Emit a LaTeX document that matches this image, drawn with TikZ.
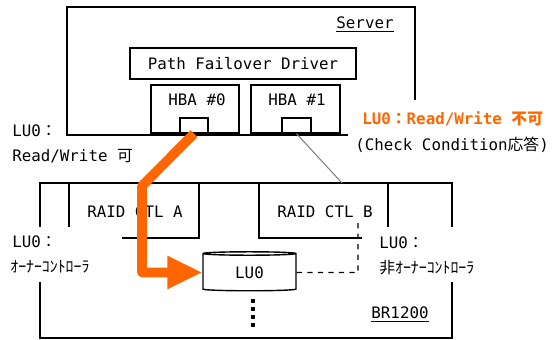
\documentclass[tikz,border=0pt]{standalone}
\usepackage{fontspec}
\setmainfont{DejaVu Sans Mono}
\newfontfamily\jp{Noto Sans CJK JP}
\usetikzlibrary{arrows.meta,shapes.geometric}
\definecolor{luorange}{RGB}{255,102,0}

\begin{document}
\begin{tikzpicture}[x=0.02cm, y=-0.02cm,
    box/.style={draw, line width=0.8pt, inner sep=0pt},
    txt/.style={inner sep=0pt, font=\fontsize{9}{10}\selectfont},
    frame/.style={line width=1.5pt},
    wall/.style={line width=0.8pt}]
    \useasboundingbox (0,0) rectangle (558,340);

    % Server
    \draw[frame] (348,135) -- (67,135) -- (67,7) -- (415,7) -- (415,100);
    \node[txt] (srv) at (365,25) {\underline{Server}};
    \node[box, txt, minimum width=4.52cm, minimum height=0.62cm] (drv) at (243,63.5) {Path Failover Driver};
    \node[box, minimum width=1.76cm, minimum height=0.96cm] (hba0) at (195,109) {};
    \node[box, minimum width=1.78cm, minimum height=0.96cm] (hba1) at (295.5,109) {};
    \node[txt] (hba0t) at (197,100) {HBA \#0};
    \node[txt] (hba1t) at (297,100) {HBA \#1};
    \node[box, minimum width=0.56cm, minimum height=0.3cm] (port0) at (194,125.5) {};
    \node[box, minimum width=0.58cm, minimum height=0.3cm] (port1) at (296.5,125.5) {};

    % BR1200
    \draw[frame] (40,227) -- (40,183) -- (452,183) -- (452,227);
    \draw[frame] (40,282) -- (40,338) -- (452,338) -- (452,282);
    \draw[wall] (69,183) -- (69,227);
    \draw[wall] (199,183) -- (199,238) -- (122,238);
    \draw[wall] (259,183) -- (259,238) -- (362,238);
    \draw[wall] (388,183) -- (388,227);
    \node[txt] (ctla) at (135,212) {RAID CTL A};
    \node[txt] (ctlb) at (325,212) {RAID CTL B};
    \node[txt] (br) at (400,315) {\underline{BR1200}};
    \coordinate (brtop) at (342,183);

    % LU0
    \node[cylinder, draw, wall, txt, shape border rotate=90, aspect=0.12,
          minimum width=1.86cm, minimum height=0.78cm] (lu0) at (249.5,272.5) {LU0};
    \foreach \y in {299,307,315,323}
        \fill (250.5,\y) rectangle ++(4,4);
    \draw[wall, dashed] (lu0.east) -- (358,272.5) -- (358,222);

    % Paths
    \draw[gray, line width=0.6pt] (port1.south) -- (brtop);
    \draw[luorange, line width=5.5pt, line join=round,
          -{Triangle[length=0.7cm, width=0.62cm]}] (port0.south) -- (142,186) |- (lu0.west);

    % Labels
    \node[txt, anchor=west] (lhost) at (12,131) {LU0{\jp ：}};
    \node[txt, anchor=west] (lrw) at (12,156) {Read/Write {\jp 可}};
    \node[txt, anchor=west, text=luorange, font=\fontsize{9}{10}\selectfont\bfseries] (nrw) at (362,119) {LU0{\jp ：}Read/Write {\jp 不可}};
    \node[txt, anchor=west] (cc) at (355,145) {(Check Condition{\jp 応答})};
    \node[txt, anchor=west] (lown) at (12,242) {LU0{\jp ：}};
    \node[txt, anchor=west] (lownt) at (10,267) {\jp ｵｰﾅｰｺﾝﾄﾛｰﾗ};
    \node[txt, anchor=west] (rown) at (379,243) {LU0{\jp ：}};
    \node[txt, anchor=west] (rownt) at (379,268) {\jp 非ｵｰﾅｰｺﾝﾄﾛｰﾗ};
\end{tikzpicture}
\end{document}
